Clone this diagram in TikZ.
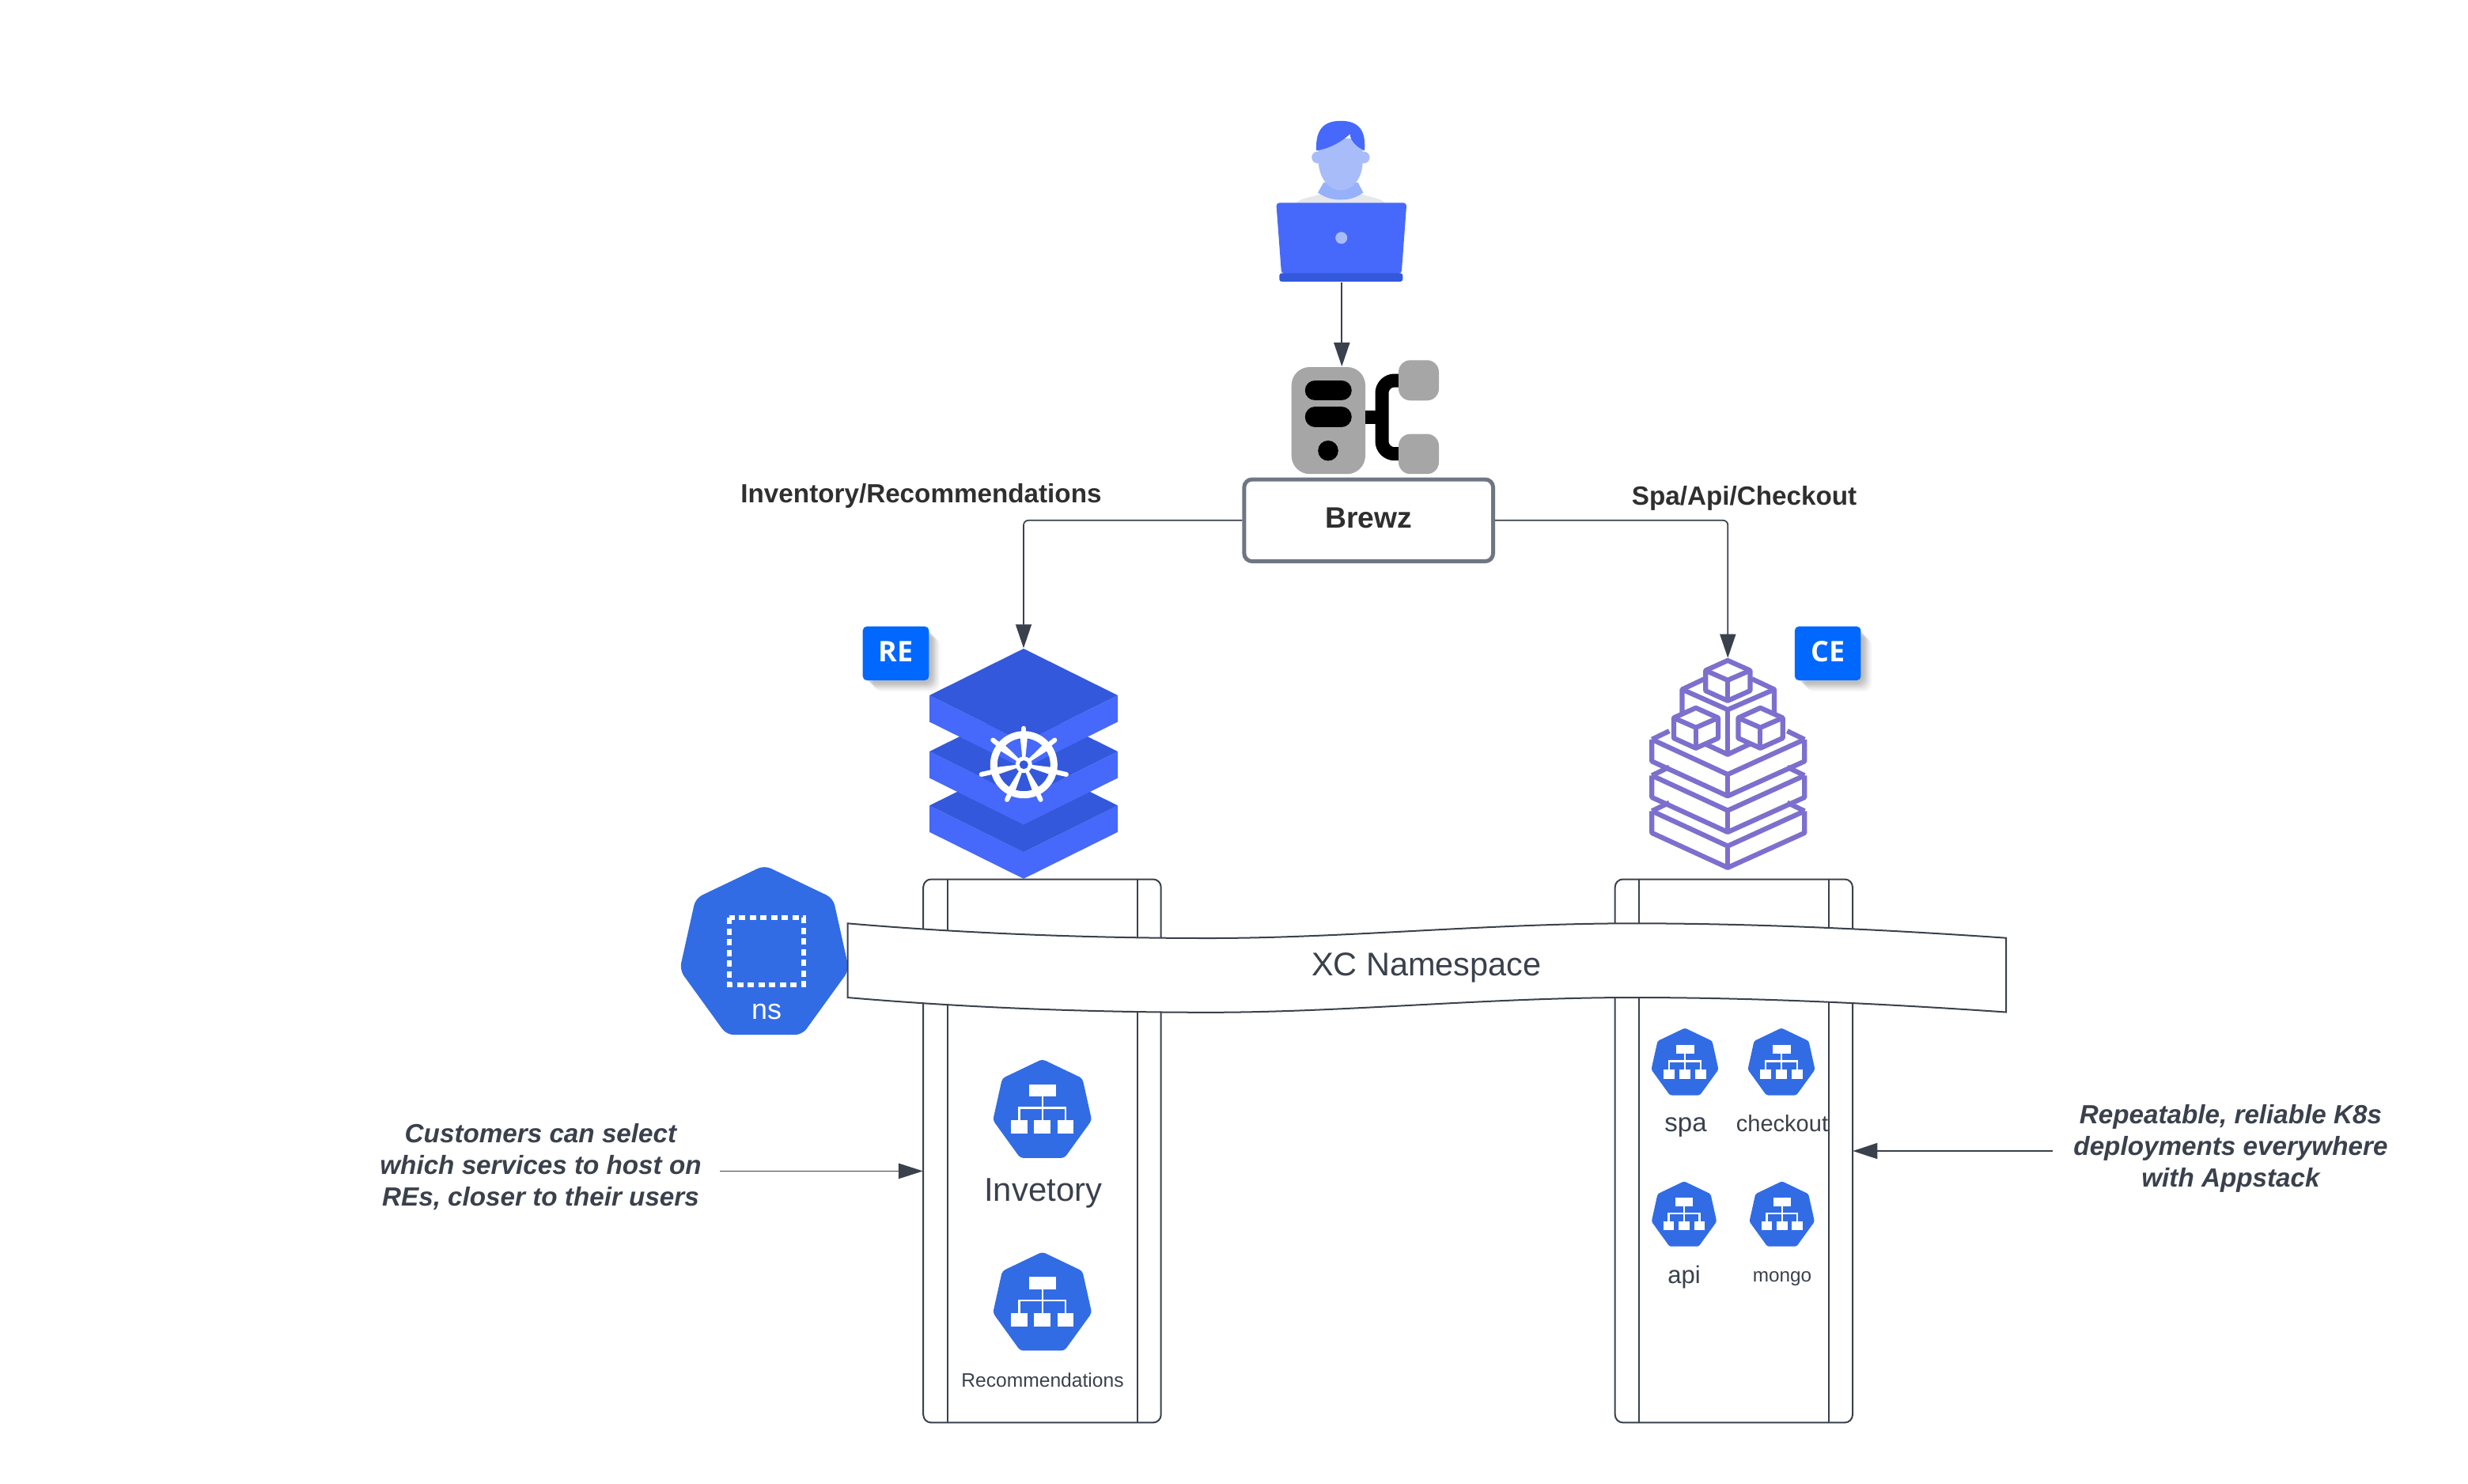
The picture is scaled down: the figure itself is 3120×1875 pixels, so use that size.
\documentclass[tikz,border=0pt]{standalone}
\usepackage{fontspec}
\setmainfont{Liberation Sans}
\newfontfamily\badgefont{Open Sans}
\usetikzlibrary{arrows.meta, calc}

\definecolor{inkgrey}{HTML}{3A414C}
\definecolor{boxgrey}{HTML}{6F7683}
\definecolor{labelgrey}{HTML}{2F2F2F}
\definecolor{k8sblue}{HTML}{326CE5}
\definecolor{layerdark}{HTML}{3358DB}
\definecolor{layerlight}{HTML}{4669FB}
\definecolor{skinblue}{HTML}{A9BCFA}
\definecolor{neckblue}{HTML}{97B0FA}
\definecolor{shirtgrey}{HTML}{E5E7EB}
\definecolor{badgeblue}{HTML}{0068FF}
\definecolor{stackpurple}{HTML}{7D6FCE}
\definecolor{servergrey}{HTML}{A6A6A6}

\newcommand{\fsz}[1]{\fontsize{#1}{#1}\selectfont}

\tikzset{
    conn/.style={draw=inkgrey, line width=0.017cm, rounded corners=0.6mm, -{Triangle[length=0.3cm, width=0.2cm]}},
    column/.style={draw=inkgrey, line width=0.02cm},
    heading/.style={anchor=base, text=labelgrey, font=\bfseries\fsz{9.45}},
    note/.style={align=center, text=inkgrey, font=\bfseries\itshape\fontsize{9.45}{11.38}\selectfont},
    svcname/.style={anchor=base, text=inkgrey},
    badge/.style={fill=badgeblue, text=white, rounded corners=0.5mm, minimum width=0.835cm, minimum height=0.68cm, inner sep=0pt, text height=0.26cm, text depth=0.046cm, font=\badgefont\bfseries\fsz{10.2}},
    pics/hepta/.style={code={
        \fill[k8sblue] (0,-42.5) -- (34.5,-26) -- (42.5,10) -- (19,42.5) -- (-19,42.5) -- (-42.5,10) -- (-34.5,-26) -- cycle;
    }},
    pics/svcicon/.style={code={
        \fill[k8sblue] (0,-42.5) -- (34.5,-26) -- (42.5,10) -- (19,42.5) -- (-19,42.5) -- (-42.5,10) -- (-34.5,-26) -- cycle;
        \begin{scope}[sharp corners]
            \fill[white] (-11.5,-20.8) rectangle (11.5,-10.2);
            \fill[white] (-27,10.2) rectangle (-13,21.5);
            \fill[white] (-7,10.2) rectangle (7,21.5);
            \fill[white] (13,10.2) rectangle (27,21.5);
            \draw[white, line width=0.024cm] (-20,10.2) -- (-20,-0.5) -- (20,-0.5) -- (20,10.2);
            \draw[white, line width=0.024cm] (0,-10.2) -- (0,10.2);
        \end{scope}
    }},
    pics/relayer/.style={code={
        \fill[layerlight] (-119,0) -- (0,59) -- (119,0) -- (119,33.5) -- (0,92.5) -- (-119,33.5) -- cycle;
        \fill[layerdark] (-119,0) -- (0,-59) -- (119,0) -- (0,59) -- cycle;
    }},
    pics/ceslab/.style={code={
        \draw (-288,-133) -- (0,0) -- (292,-133);
        \draw (-288,-133) -- (-288,-50) -- (0,82) -- (292,-50) -- (292,-133);
        \draw (0,0) -- (0,82);
        \draw (-288,-133) -- (-222,-165);
        \draw (292,-133) -- (226,-165);
    }},
    pics/cecube/.style={code={
        \draw[fill=white] (0,0) -- (85,38) -- (85,115) -- (0,153) -- (-84,115) -- (-84,38) -- cycle;
        \draw (-84,38) -- (0,75) -- (85,38);
        \draw (0,75) -- (0,153);
    }},
}

\begin{document}
\begin{tikzpicture}[x=0.01cm, y=-0.01cm]
            \useasboundingbox (0,0) rectangle (3120,1875);

            \draw[column, rounded corners=1mm] (1167.2,1111.5) rectangle (1467.7,1798.4);
            \draw[column] (1198,1111.5) -- (1198,1798.4);
            \draw[column] (1437.8,1111.5) -- (1437.8,1798.4);
            \draw[column, rounded corners=1mm] (2041.7,1111.5) rectangle (2342,1798.4);
            \draw[column] (2072,1111.5) -- (2072,1798.4);
            \draw[column] (2311.7,1111.5) -- (2311.7,1798.4);

            \fill[shirtgrey] (1638.5,256.4) .. controls (1645,250) and (1660,249) .. (1668,245.5) -- (1722,245.5) .. controls (1730,249) and (1745,250) .. (1751,256.4) -- cycle;
            \fill[neckblue] (1673.3,230.7) -- (1666,243.4) .. controls (1675,250) and (1685,252.5) .. (1695,252.5) .. controls (1705,252.5) and (1715,250) .. (1723.3,243.4) -- (1716.7,230.7) -- cycle;
            \fill[skinblue] (1665.7,199) circle[radius=0.075cm];
            \fill[skinblue] (1724,199) circle[radius=0.075cm];
            \fill[skinblue] (1666.7,175) -- (1666.7,205) .. controls (1668,228) and (1682,240.6) .. (1695,240.6) .. controls (1708,240.6) and (1722,228) .. (1722.7,205) -- (1722.7,175) -- cycle;
            \fill[layerlight] (1664,190.4) .. controls (1663,165) and (1672,152.8) .. (1695,152.8) .. controls (1718,152.8) and (1727,165) .. (1725,190.4) .. controls (1715,186) and (1707,178) .. (1706.7,169.4) .. controls (1695,180) and (1680,188) .. (1664,190.4) -- cycle;
            \fill[layerlight, rounded corners=0.4mm] (1613.3,256.4) -- (1778.3,256.4) -- (1771.7,346) -- (1620,346) -- cycle;
            \fill[layerdark, rounded corners=0.3mm] (1617.3,345.4) rectangle (1773.3,356);
            \fill[skinblue] (1695.7,300.7) circle[radius=0.075cm];

            \fill[servergrey, rounded corners=2.3mm] (1632.7,464) rectangle (1726,599.2);
            \draw[black, line width=0.257cm, line cap=round] (1662.6,493.5) -- (1695.9,493.5);
            \draw[black, line width=0.257cm, line cap=round] (1662.6,527) -- (1695.9,527);
            \fill[black] (1679,569.7) circle[radius=0.128cm];
            \fill[black] (1726,519.4) rectangle (1742,536);
            \draw[black, line width=0.17cm, rounded corners=1.6mm] (1772,481) -- (1747,481) -- (1747,573.7) -- (1772,573.7);
            \fill[servergrey, rounded corners=1.5mm] (1768,455.3) rectangle (1819,506.3);
            \fill[servergrey, rounded corners=1.5mm] (1768,548.6) rectangle (1819,599.2);

            \coordinate (laptop) at (1696.3,357.3);
            \coordinate (server) at (1696.3,463.2);
            \draw[conn] (laptop) -- (server);

            \node[draw=boxgrey, line width=0.05cm, rounded corners=1mm, fill=white, minimum width=3.145cm, minimum height=1.035cm, inner sep=0pt, text=labelgrey, text height=0.28cm, text depth=0.08cm, font=\bfseries\fsz{10.6}] (brewz) at (1730.2,657.8) {Brewz};

            \node[heading] (invrec) at (1164.5,635) {Inventory/Recommendations};
            \node[heading] (spaapi) at (2205,638) {Spa/Api/Checkout};

            \pic at (1294,1018.3) {relayer};
            \pic at (1294,950) {relayer};
            \pic at (1294,879) {relayer};
            \begin{scope}[shift={(1294.3,966.7)}]
                \draw[white, line width=0.09cm] (0,0) circle[radius=0.38cm];
                \fill[white] (0,0) circle[radius=0.105cm];
                \fill[layerdark] (0,0) circle[radius=0.055cm];
                \foreach \k/\t in {0/46, 1/50, 2/55, 3/49, 4/49, 5/55, 6/50} {
                    \begin{scope}[rotate=\k*360/7]
                        \fill[white] (-2,-9) -- (2,-9) -- (5,-38) -- (-5,-38) -- cycle;
                        \draw[white, line width=0.06cm, line cap=round] (0,-38) -- (0,-\t);
                    \end{scope}
                }
            \end{scope}

            \coordinate (restack) at (1294,819.3);
            \coordinate (cestack) at (2184.3,831.7);
            \draw[conn] (brewz.west) -| (restack);
            \draw[conn] (brewz.east) -| (cestack);

            \foreach \bx/\op in {4/0.05, 6/0.06, 8/0.06, 10/0.05, 12/0.04, 14/0.03} {
                \fill[black, opacity=\op, rounded corners=1mm] (1090.7+\bx,792+\bx) rectangle (1174.3+\bx,860+\bx);
                \fill[black, opacity=\op, rounded corners=1mm] (2269+\bx,792+\bx) rectangle (2352.3+\bx,860+\bx);
            }
            \node[badge] (rebadge) at (1132.5,826) {RE};
            \node[badge] (cebadge) at (2310.7,826) {CE};

            \begin{scope}[shift={(2040,780)}, x=0.003333cm, y=-0.003333cm, draw=stackpurple, line width=0.062cm, line join=round]
                \pic at (433,870) {ceslab};
                \pic at (433,735) {ceslab};
                \pic at (433,598) {ceslab};
                \draw (260,275) -- (433,352) -- (610,275);
                \draw (345,235) -- (260,275) -- (260,365);
                \draw (525,235) -- (610,275) -- (610,365);
                \draw (433,352) -- (433,522);
                \draw (345,481) -- (433,522) -- (520,481);
                \pic at (433,165) {cecube};
                \pic at (312,345) {cecube};
                \pic at (557,345) {cecube};
            \end{scope}

            \pic[scale=2.52, rounded corners=0.9mm] at (966.3,1201) {hepta};
            \draw[white, line width=0.055cm, dash pattern=on 0.08cm off 0.055cm] (922,1160) rectangle (1016,1245);
            \node[anchor=base, text=white, font=\fsz{10.2}] (nslabel) at (969,1288.4) {ns};

            \draw[fill=white, draw=inkgrey, line width=0.02cm] (1071.5,1167.3) .. controls (1220,1180) and (1380,1186) .. (1529,1186) .. controls (1700,1186) and (1880,1167.3) .. (2064.5,1167.3) .. controls (2220,1167.3) and (2380,1175) .. (2536,1185.7) -- (2536,1279.5) .. controls (2380,1268.8) and (2220,1261) .. (2064.5,1261) .. controls (1880,1261) and (1700,1279.8) .. (1529,1279.8) .. controls (1380,1279.8) and (1220,1273.8) .. (1071.5,1261) -- cycle;
            \node[svcname, font=\fsz{11.8}] (xcns) at (1803.4,1233) {XC Namespace};

            \pic[scale=1.47, rounded corners=0.4mm] at (1317.7,1401.4) {svcicon};
            \pic[scale=1.47, rounded corners=0.4mm] at (1317.7,1645) {svcicon};
            \node[svcname, font=\fsz{11.9}] (invlabel) at (1318.7,1518.7) {Invetory};
            \node[svcname, font=\fsz{7}] (reclabel) at (1318,1753.8) {Recommendations};

            \pic[rounded corners=0.25mm] at (2130,1342) {svcicon};
            \pic[rounded corners=0.25mm] at (2252,1342) {svcicon};
            \pic[scale=0.97, rounded corners=0.25mm] at (2129,1534.5) {svcicon};
            \pic[scale=0.97, rounded corners=0.25mm] at (2252.7,1534.5) {svcicon};
            \node[svcname, font=\fsz{9.39}] (spalabel) at (2131,1430) {spa};
            \node[svcname, font=\fsz{8.25}] (chklabel) at (2253,1430) {checkout};
            \node[svcname, font=\fsz{8.82}] (apilabel) at (2129,1622) {api};
            \node[svcname, font=\fsz{6.91}] (mgolabel) at (2253,1620.7) {mongo};

            \node[note] (renote) at (683.5,1475) {Customers can select\\which services to host on\\REs, closer to their users};
            \node[note] (cenote) at (2820,1452) {Repeatable, reliable K8s\\deployments everywhere\\with Appstack};

            \coordinate (retail) at (910,1480.4);
            \coordinate (rehead) at (1166.8,1480.4);
            \coordinate (cetail) at (2594.8,1455);
            \coordinate (cehead) at (2342.3,1455);
            \draw[-{Triangle[length=0.31cm, width=0.195cm]}, draw=inkgrey, line width=0.012cm] (retail) -- (rehead);
            \draw[-{Triangle[length=0.31cm, width=0.2cm]}, draw=inkgrey, line width=0.017cm] (cetail) -- (cehead);
        \end{tikzpicture}
\end{document}
